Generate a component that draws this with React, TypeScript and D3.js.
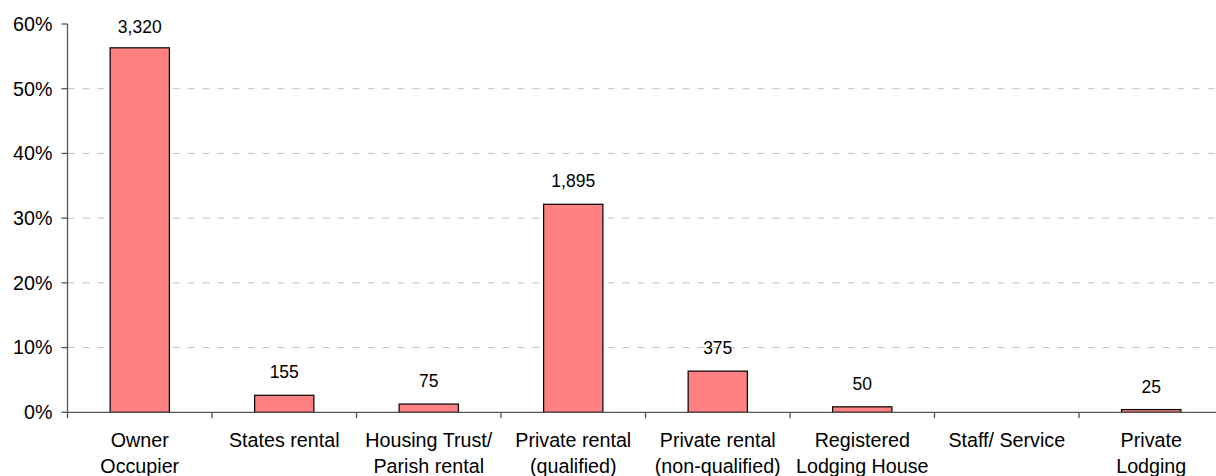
import React from "react";
import * as d3 from "d3";

const categories: string[][] = [
  ["Owner", "Occupier"],
  ["States rental"],
  ["Housing Trust/", "Parish rental"],
  ["Private rental", "(qualified)"],
  ["Private rental", "(non-qualified)"],
  ["Registered", "Lodging House"],
  ["Staff/ Service"],
  ["Private", "Lodging"],
];
const counts: number[] = [3320, 155, 75, 1895, 375, 50, 0, 25];
const yTicks: number[] = [0, 10, 20, 30, 40, 50, 60];

const W = 1216;
const H = 476;
const left = 67.5;
const bandW = 144.5;
const right = left + bandW * categories.length;
const top = 24;
const bottom = 412.3;
const font = "Liberation Sans, Arial, Helvetica, sans-serif";

export default function App() {
  const total = d3.sum(counts);
  const pct = counts.map((c) => (c / total) * 100);
  const x = d3
    .scaleBand<number>()
    .domain(d3.range(categories.length))
    .range([left, right])
    .paddingInner(0.59)
    .paddingOuter(0.295);
  const y = d3.scaleLinear().domain([0, 60]).range([bottom, top]);
  const fmt = d3.format(",");

  return (
    <svg
      width={W}
      height={H}
      style={{ position: "absolute", left: 0, top: 0, background: "#fff" }}
      fontFamily={font}
    >
      {/* gridlines */}
      {yTicks
        .filter((t) => t > 0 && t < 60)
        .map((t) => (
          <line
            key={"g" + t}
            x1={left}
            x2={right}
            y1={y(t)}
            y2={y(t)}
            stroke="#c0c0c0"
            strokeWidth={1}
            strokeDasharray="7,8"
          />
        ))}
      {/* bars */}
      {pct.map((p, i) => (
        <rect
          key={"b" + i}
          x={x(i)!}
          y={y(p)}
          width={x.bandwidth()}
          height={Math.max(0, bottom - y(p))}
          fill="#FF8080"
          stroke="#000"
          strokeWidth={1.2}
        />
      ))}
      {/* value labels */}
      {pct.map((p, i) =>
        counts[i] > 0 ? (
          <text
            key={"v" + i}
            x={x(i)! + x.bandwidth() / 2}
            y={Math.max(33, y(p) - 17)}
            textAnchor="middle"
            fontSize={17.5}
            fill="#000"
          >
            {fmt(counts[i])}
          </text>
        ) : null
      )}
      {/* y axis */}
      <line x1={left} x2={left} y1={top} y2={bottom} stroke="#555" strokeWidth={1.3} />
      {yTicks.map((t) => (
        <g key={"yt" + t}>
          <line x1={left - 6} x2={left} y1={y(t)} y2={y(t)} stroke="#555" strokeWidth={1.3} />
          <text
            x={left - 15}
            y={y(t)}
            dy="0.35em"
            textAnchor="end"
            fontSize={19.7}
            fill="#000"
          >
            {t + "%"}
          </text>
        </g>
      ))}
      {/* x axis */}
      <line x1={left} x2={right} y1={bottom} y2={bottom} stroke="#555" strokeWidth={1.3} />
      {d3.range(categories.length + 1).map((k) => (
        <line
          key={"xt" + k}
          x1={left + k * bandW}
          x2={left + k * bandW}
          y1={bottom}
          y2={bottom + 6}
          stroke="#555"
          strokeWidth={1.3}
        />
      ))}
      {categories.map((lines, i) => (
        <text
          key={"c" + i}
          x={x(i)! + x.bandwidth() / 2}
          y={447}
          textAnchor="middle"
          fontSize={19.7}
          fill="#000"
        >
          {lines.map((l, j) => (
            <tspan key={j} x={x(i)! + x.bandwidth() / 2} dy={j === 0 ? 0 : 25.5}>
              {l}
            </tspan>
          ))}
        </text>
      ))}
    </svg>
  );
}
